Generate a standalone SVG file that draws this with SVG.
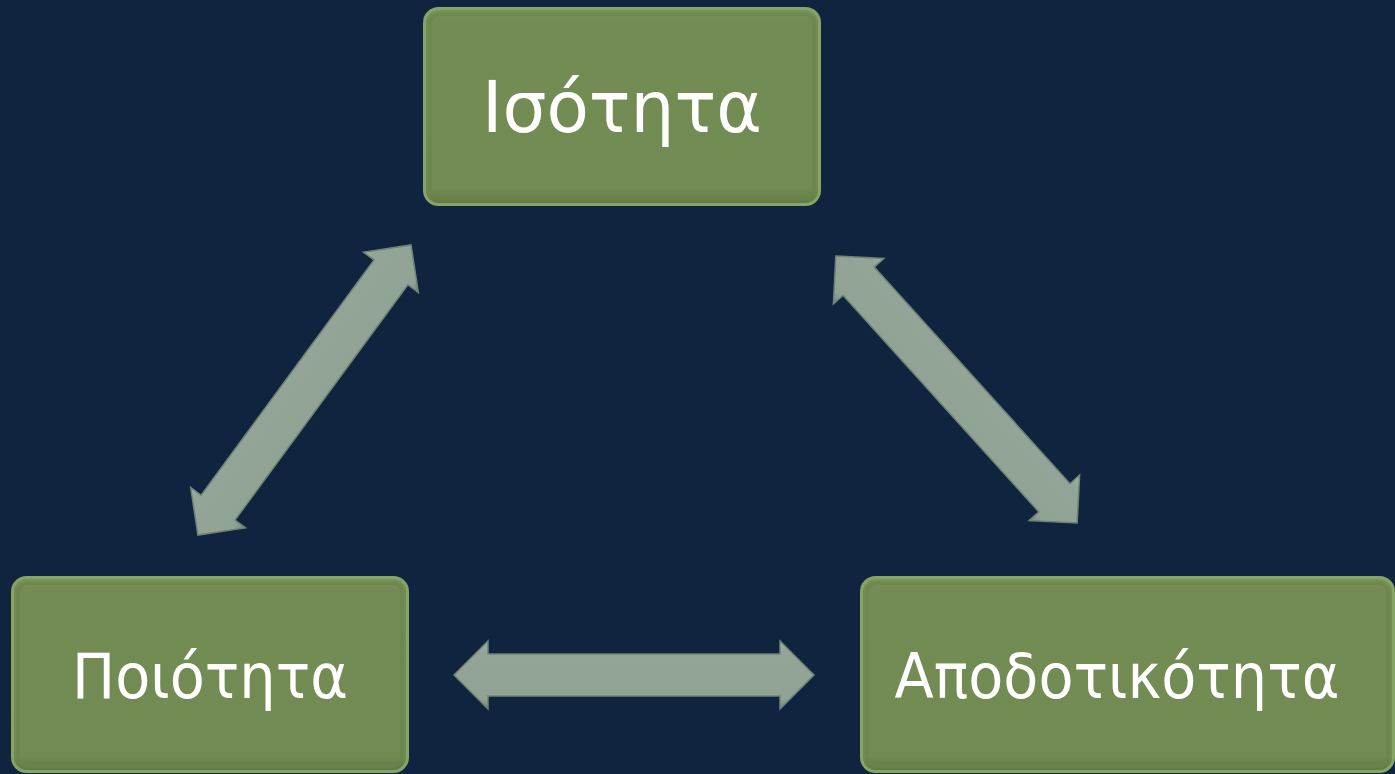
<svg xmlns="http://www.w3.org/2000/svg" xmlns:xlink="http://www.w3.org/1999/xlink" width="1395" height="774" viewBox="0 0 1395 774">
  <defs>
    <linearGradient id="boxFill" x1="0" y1="0" x2="0" y2="1">
      <stop offset="0" stop-color="#7a9559"/>
      <stop offset="0.06" stop-color="#728c53"/>
      <stop offset="0.92" stop-color="#718b52"/>
      <stop offset="1" stop-color="#5f7845"/>
    </linearGradient>
    <linearGradient id="arrFill" x1="0" y1="0" x2="0" y2="1">
      <stop offset="0" stop-color="#a3b5a8"/>
      <stop offset="0.15" stop-color="#93a597"/>
      <stop offset="0.85" stop-color="#91a395"/>
      <stop offset="1" stop-color="#728679"/>
    </linearGradient>
    <polygon id="arr" points="-180,0 -146,-34 -146,-21 146,-21 146,-34 180,0 146,34 146,21 -146,21 -146,34"/>
    <style>
      .box { fill: url(#boxFill); stroke: #86a465; stroke-width: 3; }
      .inner { fill: none; stroke: #6a844d; stroke-width: 4; opacity: 0.6; }
      .lbl { font-family: "DejaVu Sans", "Noto Sans", sans-serif; fill: #ffffff; text-anchor: middle; }
      .arrow { fill: url(#arrFill); stroke: #6f8376; stroke-width: 1.5; stroke-linejoin: miter; }
    </style>
  </defs>
  <rect x="0" y="0" width="1395" height="774" fill="#10243f"/>

  <g id="connectors">
    <use xlink:href="#arr" href="#arr" class="arrow" transform="translate(634,675)"/>
    <use xlink:href="#arr" href="#arr" class="arrow" transform="translate(304.5,390) rotate(-53.7)"/>
    <use xlink:href="#arr" href="#arr" class="arrow" transform="translate(956.5,389.5) rotate(47.9)"/>
  </g>

  <g id="node-isotita">
    <rect class="box" x="424.5" y="8.5" width="395" height="196" rx="14"/>
    <rect class="inner" x="430" y="14" width="384" height="185" rx="10"/>
    <text class="lbl" x="622" y="132" font-size="72" textLength="280" lengthAdjust="spacingAndGlyphs">Ισότητα</text>
  </g>

  <g id="node-poiotita">
    <rect class="box" x="12.5" y="577.5" width="395" height="194" rx="14"/>
    <rect class="inner" x="18" y="583" width="384" height="183" rx="10"/>
    <text class="lbl" x="210" y="698" font-size="63" textLength="276" lengthAdjust="spacingAndGlyphs">Ποιότητα</text>
  </g>

  <g id="node-apodotikotita">
    <rect class="box" x="861.5" y="577.5" width="532" height="194" rx="14"/>
    <rect class="inner" x="867" y="583" width="521" height="183" rx="10"/>
    <text class="lbl" x="1117" y="698" font-size="63" textLength="445" lengthAdjust="spacingAndGlyphs">Αποδοτικότητα</text>
  </g>
</svg>
